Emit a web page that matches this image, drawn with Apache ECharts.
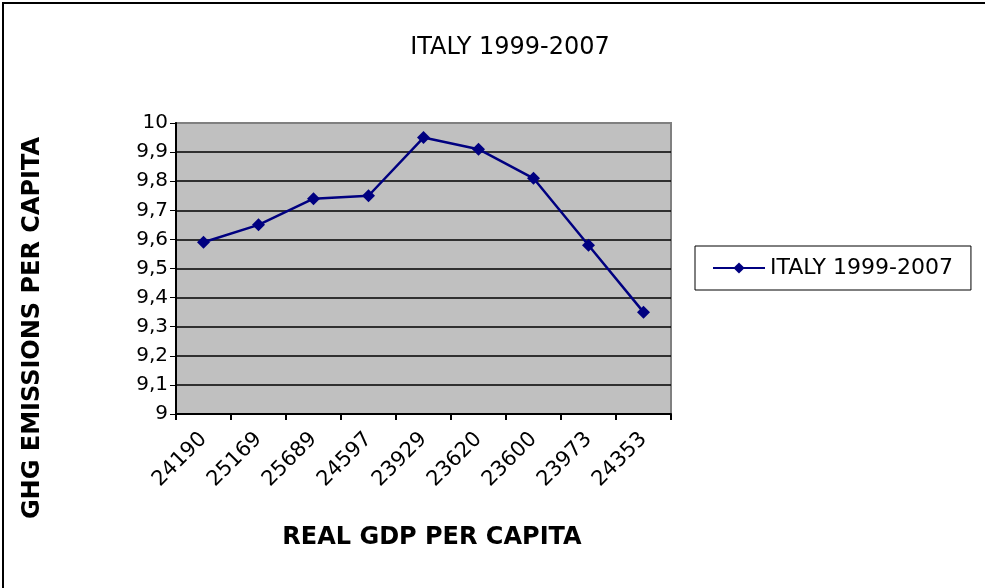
<!DOCTYPE html>
<html>
<head>
<meta charset="utf-8">
<script src="https://cdn.jsdelivr.net/npm/echarts@6/dist/echarts.min.js"></script>
<style>
html,body{margin:0;padding:0;background:#fff;overflow:hidden;}
#wrap{position:relative;width:985px;height:588px;overflow:hidden;}
#chart{width:985px;height:588px;}
#frame{position:absolute;left:2px;top:2px;width:1200px;height:800px;border-left:2px solid #000;border-top:2px solid #000;pointer-events:none;}
</style>
</head>
<body>
<div id="wrap"><div id="chart"></div><div id="frame"></div></div>
<script>
const titleText = 'ITALY 1999-2007';
const seriesName = 'ITALY 1999-2007';
const categories = ['24190','25169','25689','24597','23929','23620','23600','23973','24353'];
const emissions = [9.59, 9.65, 9.74, 9.75, 9.95, 9.91, 9.81, 9.58, 9.35];
const yAxisName = 'GHG EMISSIONS PER CAPITA';
const xAxisName = 'REAL GDP PER CAPITA';

const chart = echarts.init(document.getElementById('chart'), null, {renderer:'canvas'});
const FONT = 'DejaVu Sans';
chart.setOption({
  animation:false,
  backgroundColor:'#ffffff',
  title:{
    text:titleText, left:505, top:31, textAlign:'center',
    textStyle:{fontFamily:FONT, fontSize:24, fontWeight:'normal', color:'#000'}
  },
  legend:{
    left:695, top:246,
    orient:'vertical',
    borderColor:'#000', borderWidth:1,
    padding:[11,18,11,17],
    itemWidth:52, itemHeight:14, itemGap:0,
    textStyle:{fontFamily:FONT, fontSize:22, color:'#000', lineHeight:22},
    data:[seriesName]
  },
  grid:{left:176, right:314, top:123, bottom:174, show:true, backgroundColor:'#C0C0C0', borderColor:'#808080', borderWidth:2},
  xAxis:{
    type:'category', data:categories, boundaryGap:true,
    axisLine:{lineStyle:{color:'#000', width:2}},
    axisTick:{show:true, alignWithLabel:false, length:6, lineStyle:{color:'#000', width:2}},
    axisLabel:{rotate:45, interval:0, margin:22, fontFamily:FONT, fontSize:21, color:'#000'}
  },
  yAxis:{
    type:'value', min:9, max:10, interval:0.1,
    axisLine:{show:true, lineStyle:{color:'#000', width:2}},
    axisTick:{show:true, length:6, lineStyle:{color:'#000', width:1}},
    axisLabel:{margin:8, fontFamily:FONT, fontSize:20, color:'#000',
      formatter:function(v){ return (Math.round(v*10)/10).toString().replace('.', ','); }},
    splitLine:{show:true, lineStyle:{color:['#000','#000','#000','#000','#000','#000','#000','#000','#000','#000','#808080'], width:1.5}}
  },
  graphic:[
    {type:'text', x:33, y:328, rotation:Math.PI/2, silent:true,
      style:{text:yAxisName, fontFamily:FONT, fontSize:24, fontWeight:'bold', fill:'#000', align:'center', verticalAlign:'middle'}},
    {type:'text', x:432, y:538, silent:true,
      style:{text:xAxisName, fontFamily:FONT, fontSize:24, fontWeight:'bold', fill:'#000', align:'center', verticalAlign:'middle'}}
  ],
  series:[{
    name:seriesName, type:'line', data:emissions,
    symbol:'diamond', symbolSize:13,
    lineStyle:{color:'#000080', width:2.5},
    itemStyle:{color:'#000080'},
    emphasis:{disabled:true}
  }]
});
</script>
</body>
</html>
